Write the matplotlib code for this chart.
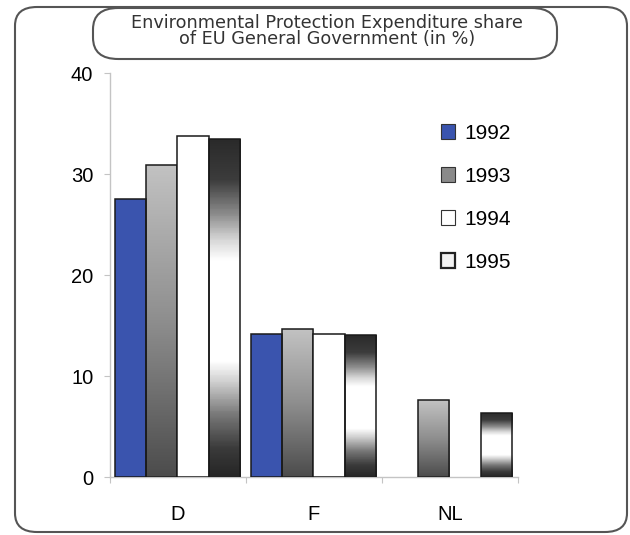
import numpy as np
import matplotlib.pyplot as plt
from matplotlib.patches import FancyBboxPatch, Patch
from matplotlib.colors import LinearSegmentedColormap

# data (share in %)
countries = ['D', 'F', 'NL']
years = ['1992', '1993', '1994', '1995']
v1992 = [27.5, 14.2, np.nan]
v1993 = [30.9, 14.65, 7.6]
v1994 = [33.8, 14.15, np.nan]
v1995 = [33.5, 14.05, 6.35]
yticks = [0, 10, 20, 30, 40]

title = 'Environmental Protection Expenditure share\nof EU General Government (in %)'

# styles
blue = '#3a54ae'
grey_ramp = LinearSegmentedColormap.from_list('g93', ['#c2c2c2', '#8e8e8e', '#4c4c4c'])
tube = LinearSegmentedColormap.from_list(
    'g95', [(0, '#2a2a2a'), (0.12, '#3c3c3c'), (0.22, '#8a8a8a'), (0.3, '#d8d8d8'),
            (0.36, '#ffffff'), (0.66, '#ffffff'), (0.72, '#d0d0d0'), (0.82, '#777777'),
            (0.92, '#3a3a3a'), (1, '#262626')])

fig = plt.figure(figsize=(6.3, 5.35), dpi=100)
ax = fig.add_axes([0.1746, 0.1084, 0.6476, 0.7551])

x = np.arange(len(countries))
w = 0.23
offs = [-0.35, -0.12, 0.11, 0.34]
series = [v1992, v1993, v1994, v1995]
face = [blue, 'none', 'white', 'none']
ramps = [None, grey_ramp, None, tube]

for vals, off, fc, ramp in zip(series, offs, face, ramps):
    bars = ax.bar(x + off, np.nan_to_num(vals), w, facecolor=fc,
                  edgecolor='#1a1a1a', linewidth=1.1, zorder=3)
    for b, v in zip(bars, vals):
        if np.isnan(v):
            b.set_visible(False)
            continue
        if ramp is not None:
            grad = np.linspace(0, 1, 200).reshape(-1, 1)
            im = ax.imshow(grad, cmap=ramp, aspect='auto', zorder=2.5,
                           extent=(b.get_x(), b.get_x() + b.get_width(), 0, b.get_height()),
                           origin='upper', vmin=0, vmax=1)
            im.set_clip_path(b)

ax.set_xlim(-0.5, 2.5)
ax.set_ylim(0, 40)
ax.set_yticks(yticks)
ax.set_xticks([-0.5, 0.5, 1.5, 2.5])
ax.set_xticklabels([])
ax.set_xticks(x, minor=True)
ax.set_xticklabels(countries, minor=True)

for s in ['top', 'right']:
    ax.spines[s].set_visible(False)
for s in ['left', 'bottom']:
    ax.spines[s].set_color('#c4c4c4')
    ax.spines[s].set_linewidth(1.0)

ax.tick_params(axis='y', length=4, color='#c4c4c4', labelsize=14.5, pad=8)
ax.tick_params(axis='x', which='major', length=4, color='#c4c4c4')
ax.tick_params(axis='x', which='minor', length=0, labelsize=14.5, pad=20)
for lab in ax.get_yticklabels() + ax.get_xticklabels(minor=True):
    lab.set_fontfamily('Liberation Sans')

# legend
handles = [Patch(facecolor=blue, edgecolor='#333333', lw=0.8),
           Patch(facecolor='#8a8a8a', edgecolor='#333333', lw=0.8),
           Patch(facecolor='white', edgecolor='#333333', lw=0.8),
           Patch(facecolor='#f2f2f2', edgecolor='#222222', lw=1.6)]
leg = ax.legend(handles, years, loc='upper left', bbox_to_anchor=(0.79, 0.895),
                frameon=False, prop={'family': 'Liberation Sans', 'size': 15},
                handlelength=0.7, handleheight=0.7, handletextpad=0.45,
                labelspacing=1.15, borderaxespad=0)

# outer frame and title capsule
frame = FancyBboxPatch((15 / 630, 3 / 535), 612 / 630, 525 / 535,
                       boxstyle='round,pad=0,rounding_size=0.035',
                       transform=fig.transFigure, facecolor='none',
                       edgecolor='#555555', linewidth=1.5, zorder=0)
fig.patches.append(frame)
cap = FancyBboxPatch((93 / 630, 476 / 535), 464 / 630, 51 / 535,
                     boxstyle='round,pad=0,rounding_size=0.04',
                     transform=fig.transFigure, facecolor='white',
                     edgecolor='#555555', linewidth=1.5, zorder=1)
fig.patches.append(cap)
fig.text(327 / 630, 1 - 31 / 535, title, ha='center', va='center',
         fontsize=12.7, family='DejaVu Sans', linespacing=0.9,
         color='#333333', zorder=5)

fig.savefig('out.png', dpi=100)
